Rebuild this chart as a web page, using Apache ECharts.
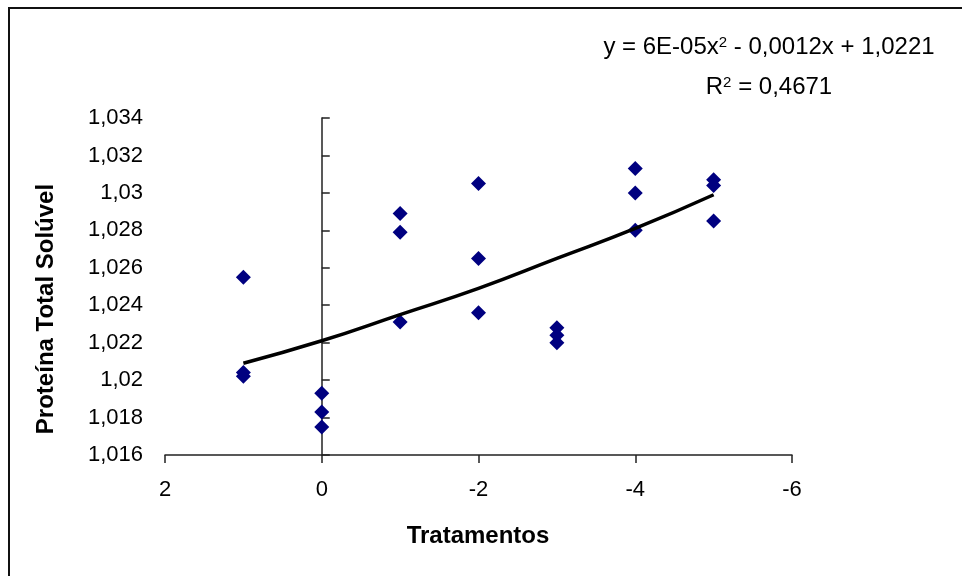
<!DOCTYPE html>
<html>
<head>
<meta charset="utf-8">
<script src="https://cdn.jsdelivr.net/npm/echarts@6/dist/echarts.min.js"></script>
<style>
  html, body { margin: 0; padding: 0; background: #fff; }
  #chart { width: 962px; height: 576px; }
</style>
</head>
<body>
<div id="chart"></div>
<script>
// pontos medidos (tratamento, proteína)
const treatX = [1, 1, 1, 0, 0, 0, -1, -1, -1, -2, -2, -2, -3, -3, -3, -4, -4, -4, -5, -5, -5]
const protein = [1.0255, 1.0204, 1.0202, 1.0193, 1.0183, 1.0175, 1.0289, 1.0279, 1.0231,
  1.0305, 1.0265, 1.0236, 1.0228, 1.0224, 1.0220, 1.0313, 1.0300, 1.0280, 1.0307, 1.0304, 1.0285]
// linha de tendência (polinomial)
const trendX = [1, 0, -1, -2, -3, -4, -5]
const trendY = [1.0209, 1.0221, 1.0235, 1.0249, 1.0265, 1.0281, 1.0299]
const xTicks = { min: -6, max: 2, step: 2 }
const yTicks = { min: 1.016, max: 1.034, step: 0.002 }

const font = '"Liberation Sans", Arial, sans-serif'
const chart = echarts.init(document.getElementById('chart'))

const fmtY = (v) => parseFloat(v.toFixed(3)).toString().replace('.', ',')

const eqRich = {
  n: { fontSize: 24, fontFamily: font, fill: '#000' },
  s: { fontSize: 15, fontFamily: font, fill: '#000', verticalAlign: 'top' }
}

const option = {
  animation: false,
  backgroundColor: '#fff',
  grid: { left: 165, right: 170, top: 118, bottom: 121 },
  xAxis: {
    type: 'value',
    inverse: true,
    min: xTicks.min,
    max: xTicks.max,
    interval: xTicks.step,
    axisLine: { onZero: false, lineStyle: { color: '#222', width: 1.5 } },
    axisTick: { show: true, inside: false, length: 8, lineStyle: { color: '#222', width: 1.5 } },
    axisLabel: { fontSize: 22, color: '#000', fontFamily: font, margin: 24 },
    splitLine: { show: false }
  },
  yAxis: [
    {
      // só os rótulos, à esquerda
      type: 'value',
      position: 'left',
      min: yTicks.min,
      max: yTicks.max,
      interval: yTicks.step,
      axisLine: { show: false, onZero: false },
      axisTick: { show: false },
      splitLine: { show: false },
      axisLabel: { fontSize: 22, color: '#000', fontFamily: font, margin: 22, formatter: fmtY }
    },
    {
      // eixo que cruza em x = 0
      type: 'value',
      position: 'left',
      min: yTicks.min,
      max: yTicks.max,
      interval: yTicks.step,
      axisLine: { show: true, onZero: true, lineStyle: { color: '#222', width: 1.5 } },
      axisTick: { show: true, inside: true, length: 8, lineStyle: { color: '#222', width: 1.5 } },
      axisLabel: { show: false },
      splitLine: { show: false }
    }
  ],
  series: [
    {
      name: 'Proteína',
      type: 'scatter',
      yAxisIndex: 0,
      symbol: 'diamond',
      symbolSize: 15,
      itemStyle: { color: '#000080', opacity: 1 },
      data: treatX.map((x, i) => [x, protein[i]])
    },
    {
      name: 'Tendência',
      type: 'line',
      yAxisIndex: 0,
      smooth: true,
      showSymbol: false,
      z: 5,
      lineStyle: { color: '#000', width: 3.5 },
      data: trendX.map((x, i) => [x, trendY[i]])
    }
  ],
  graphic: [
    {
      type: 'rect',
      shape: { x: 9, y: 8, width: 1000, height: 620 },
      style: { fill: 'none', stroke: '#111', lineWidth: 2 },
      silent: true
    },
    {
      type: 'text',
      x: 769, y: 47,
      style: {
        text: '{n|y = 6E-05x}{s|2}{n| - 0,0012x + 1,0221}',
        rich: eqRich,
        align: 'center', verticalAlign: 'middle'
      }
    },
    {
      type: 'text',
      x: 769, y: 87,
      style: {
        text: '{n|R}{s|2}{n| = 0,4671}',
        rich: eqRich,
        align: 'center', verticalAlign: 'middle'
      }
    },
    {
      type: 'text',
      x: 478, y: 536,
      style: {
        text: 'Tratamentos',
        fontSize: 24, fontWeight: 'bold', fontFamily: font, fill: '#000',
        align: 'center', verticalAlign: 'middle'
      }
    },
    {
      type: 'text',
      x: 46, y: 309,
      rotation: Math.PI / 2,
      style: {
        text: 'Proteína Total Solúvel',
        fontSize: 24, fontWeight: 'bold', fontFamily: font, fill: '#000',
        align: 'center', verticalAlign: 'middle'
      }
    }
  ]
}

chart.setOption(option)
</script>
</body>
</html>
